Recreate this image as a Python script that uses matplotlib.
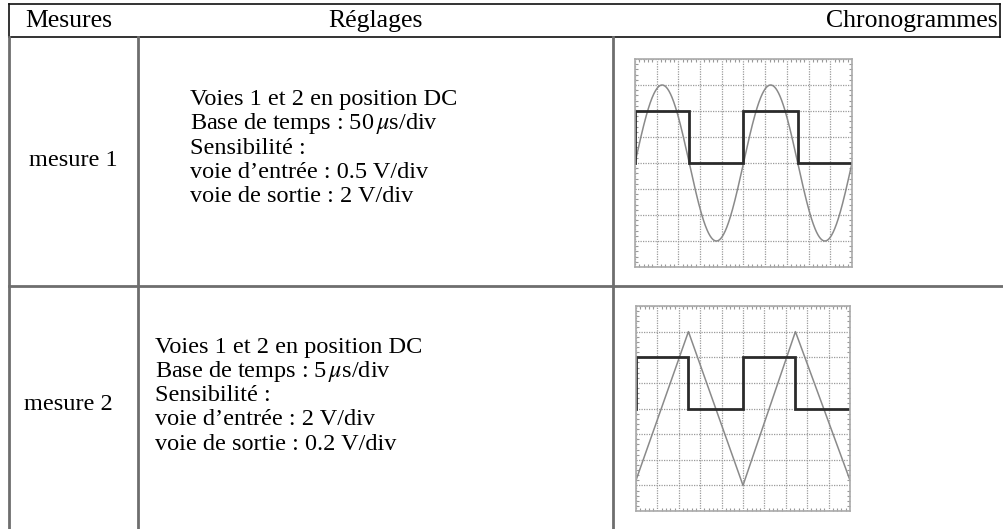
import numpy as np
import matplotlib
matplotlib.use("Agg")
import matplotlib.pyplot as plt
from matplotlib.ticker import MultipleLocator

plt.rcParams['font.family'] = ['Liberation Serif', 'DejaVu Serif']
plt.rcParams['mathtext.fontset'] = 'stix'

# ---- table content ----
headers = ["Mesures", "Réglages", "Chronogrammes"]
row_labels = ["mesure 1", "mesure 2"]
settings_1 = ["Voies 1 et 2 en position DC",
              r"Base de temps : 50$\,\mu$s/div",
              "Sensibilité :",
              "voie d’entrée : 0.5 V/div",
              "voie de sortie : 2 V/div"]
settings_2 = ["Voies 1 et 2 en position DC",
              r"Base de temps : 5$\,\mu$s/div",
              "Sensibilité :",
              "voie d’entrée : 2 V/div",
              "voie de sortie : 0.2 V/div"]

# ---- oscillogram data (divisions) ----
sine_period = 5.0
sine_amp = 3.0
sq1_t = [0, 0, 2.5, 2.5, 5.0, 5.0, 7.5, 7.5, 10]
sq1_v = [0, 2, 2, 0, 0, 2, 2, 0, 0]
tri_t = [0, 2.45, 5.0, 7.45, 10]
tri_v = [-2.8, 3, -3, 3, -2.8]
sq2_t = [0, 0, 2.45, 2.45, 5.0, 5.0, 7.45, 7.45, 10]
sq2_v = [0, 2, 2, 0, 0, 2, 2, 0, 0]

W, H = 1004, 529
fig = plt.figure(figsize=(W / 100, H / 100), dpi=100)
bg = fig.add_axes([0, 0, 1, 1])
bg.set_xlim(0, W)
bg.set_ylim(H, 0)
bg.axis('off')

black = '#111111'
grey = '#6e6e6e'
bg.plot([9, 1000], [4, 4], color=black, lw=1.2)
bg.plot([9, 1000], [37, 37], color=black, lw=1.2)
bg.plot([9, 9], [4, 37], color=black, lw=1.2)
bg.plot([1000, 1000], [4, 37], color=black, lw=1.2)
for x in [9, 138, 613]:
    bg.plot([x, x], [37, H], color=grey, lw=2)
bg.plot([9, W], [286, 286], color=grey, lw=2)

hfs = 18.5
fs = 17.5
bg.text(69, 21, headers[0], ha='center', va='center', fontsize=hfs)
bg.text(375, 21, headers[1], ha='center', va='center', fontsize=hfs)
bg.text(998, 21, headers[2], ha='right', va='center', fontsize=hfs)

bg.text(73, 161, row_labels[0], ha='center', va='center', fontsize=fs)
bg.text(68, 405, row_labels[1], ha='center', va='center', fontsize=fs)

for i, s in enumerate(settings_1):
    bg.text(190, 100 + 24 * i, s, ha='left', va='center', fontsize=fs)
for i, s in enumerate(settings_2):
    bg.text(155, 347 + 24.3 * i, s, ha='left', va='center', fontsize=fs)


def scope(rect_px):
    x0, y0, x1, y1 = rect_px
    ax = fig.add_axes([x0 / W, 1 - y1 / H, (x1 - x0) / W, (y1 - y0) / H])
    ax.set_xlim(0, 10)
    ax.set_ylim(-4, 4)
    ax.xaxis.set_major_locator(MultipleLocator(1))
    ax.yaxis.set_major_locator(MultipleLocator(1))
    ax.xaxis.set_minor_locator(MultipleLocator(0.2))
    ax.yaxis.set_minor_locator(MultipleLocator(0.2))
    ax.grid(True, which='major', color='#9a9a9a', lw=0.9, ls=(0, (1, 1)))
    ax.tick_params(which='both', direction='in', top=True, right=True,
                   labelbottom=False, labelleft=False, color='#999999')
    ax.tick_params(which='major', length=0)
    ax.tick_params(which='minor', length=2.5, width=0.8)
    for sp in ax.spines.values():
        sp.set_color('#aaaaaa')
        sp.set_linewidth(1.2)
        sp.set_linestyle((0, (1, 1)))
    return ax


ax1 = scope((635, 59, 852, 267))
t = np.linspace(0, 10, 600)
ax1.plot(t, sine_amp * np.sin(2 * np.pi * t / sine_period), color='#8a8a8a', lw=1.1)
ax1.plot(sq1_t, sq1_v, color='#2b2b2b', lw=2.0, solid_joinstyle='miter')

ax2 = scope((636, 306, 850, 511))
ax2.plot(tri_t, tri_v, color='#8a8a8a', lw=1.1)
ax2.plot(sq2_t, sq2_v, color='#2b2b2b', lw=2.0, solid_joinstyle='miter')

fig.savefig('out.png', dpi=100)
